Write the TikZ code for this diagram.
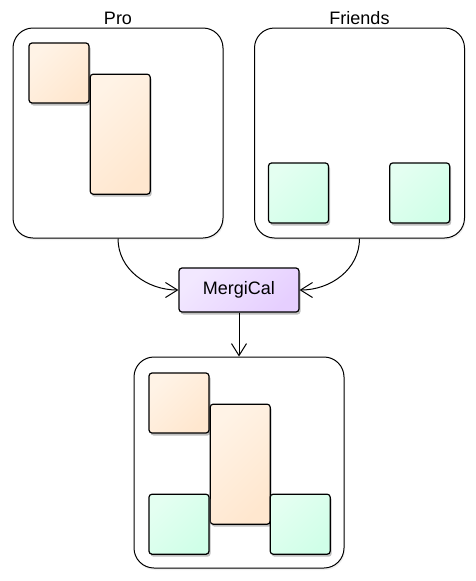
\documentclass[tikz,border=0pt]{standalone}
\usepackage{fontspec}
\setmainfont{Liberation Sans}
\usetikzlibrary{positioning}
\usetikzlibrary{shadows}
\usetikzlibrary{arrows.meta}

\definecolor{peachA}{HTML}{FFF3E6}
\definecolor{peachB}{HTML}{FFE7CF}
\definecolor{mintA}{HTML}{E4FFF1}
\definecolor{mintB}{HTML}{D0FFE8}
\definecolor{lilacA}{HTML}{F2E8FF}
\definecolor{lilacB}{HTML}{E6CFFF}

\begin{document}
\begin{tikzpicture}[x=1pt, y=1pt,
    font=\fontsize{18pt}{21pt}\selectfont,
    calbox/.style={draw=black, line width=1pt, rounded corners=20pt, minimum width=210pt, minimum height=210pt, fill=white,
        drop shadow={opacity=0.12, shadow xshift=1pt, shadow yshift=-2pt}},
    title/.style={inner sep=0pt},
    event/.style={draw=black, line width=1.2pt, rounded corners=3pt, minimum width=60pt, minimum height=60pt, inner sep=0pt,
        drop shadow={opacity=0.5, shadow xshift=1.5pt, shadow yshift=-2.5pt}},
    pro/.style={event, left color=peachA, right color=peachB, shading angle=45},
    friend/.style={event, left color=mintA, right color=mintB, shading angle=45},
    tall/.style={pro, minimum height=120pt},
    mergenode/.style={event, minimum width=120pt, minimum height=44pt, left color=lilacA, right color=lilacB, shading angle=45},
    flow/.style={-{Straight Barb[length=12pt, width=15pt]}, line width=1pt}]
    \useasboundingbox (0,0) rectangle (475,-581);

    %Calendars
    \node[calbox]           (procal)        at (118,-133)     {};
    \node[calbox]           (friendcal)     at (359.5,-133)   {};
    \node[mergenode]        (merge)         at (239,-290)     {MergiCal};
    \node[calbox, minimum height=211pt] (mergedcal) at (239,-462.5) {};
    \node[title]            (protitle)      [above=3pt of procal]    {Pro};
    \node[title]            (friendtitle)   [above=3pt of friendcal] {Friends};

    %Pro events
    \node[pro]              (p0)            at (59,-73)       {};
    \node[tall]             (p1)            [below right=-30pt and 0pt of p0] {};

    %Friends events
    \node[friend]           (f0)            at (298.5,-193)   {};
    \node[friend]           (f1)            [right=60pt of f0] {};

    %Merged events
    \node[pro]              (m0)            at (179,-403)     {};
    \node[tall]             (m1)            [below right=-30pt and 0pt of m0] {};
    \node[friend]           (m2)            [below=60pt of m0] {};
    \node[friend]           (m3)            [right=60pt of m2] {};

    %Arrows
    \draw[flow] (procal.south) to[out=-90, in=180] (merge.west);
    \draw[flow] (friendcal.south) to[out=-90, in=0] (merge.east);
    \draw[flow] (merge.south) -- (mergedcal.north);
\end{tikzpicture}
\end{document}
